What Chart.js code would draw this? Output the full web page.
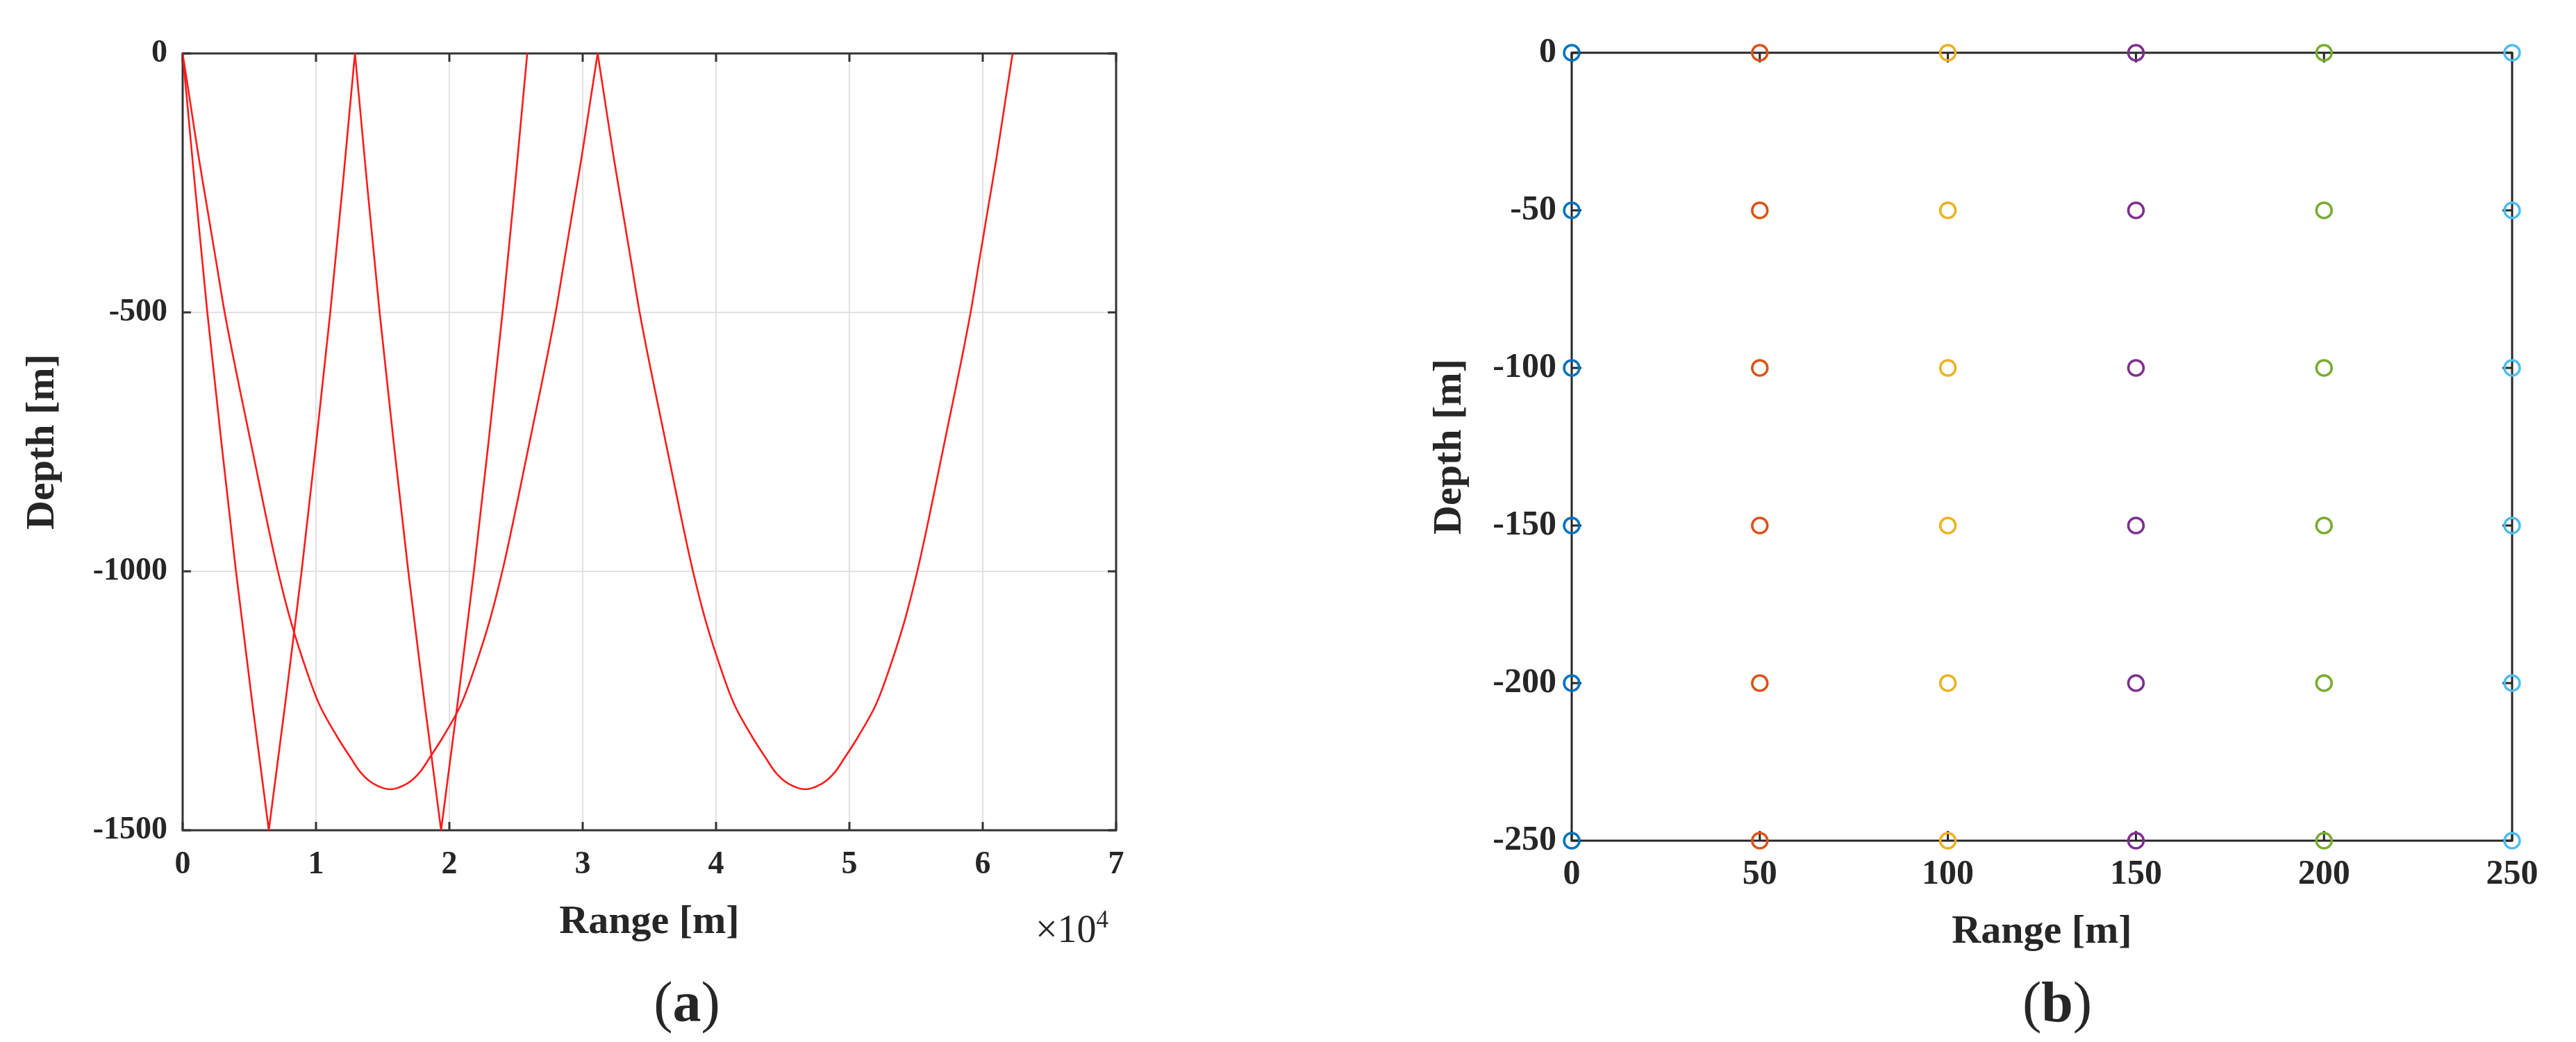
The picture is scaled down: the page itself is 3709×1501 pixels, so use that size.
<!DOCTYPE html>
<html>
<head>
<meta charset="utf-8">
<script src="https://cdn.jsdelivr.net/npm/chart.js@4"></script>
<style>
  html, body { margin: 0; padding: 0; background: #fff; overflow: hidden; }
  body { width: 3709px; height: 1501px; position: relative; font-family: "Liberation Serif", serif; color: #262626; }
  canvas { position: absolute; top: 0; }
  #rayChart { left: 0; width: 1800px; height: 1400px; }
  #gridChart { left: 1900px; width: 1809px; height: 1400px; }
  .note { position: absolute; white-space: nowrap; line-height: 1; }
</style>
</head>
<body>
<canvas id="rayChart" width="1800" height="1400"></canvas>
<canvas id="gridChart" width="1809" height="1400"></canvas>
<div class="note" style="left:1491px; top:1310px; font-size:56px;">×10<span style="font-size:35px; position:relative; top:-21px;">4</span></div>
<div class="note" style="left:889px; top:1403px; width:200px; text-align:center; font-size:82px;">(<b>a</b>)</div>
<div class="note" style="left:2862px; top:1403px; width:200px; text-align:center; font-size:82px;">(<b>b</b>)</div>
<script>
// (a) ray paths: range in metres, depth in metres
const steepRange = [
  0, 900, 1850, 2900, 4000, 5200, 6460,
  7720, 8920, 10020, 11070, 12020, 12920,
  13820, 14770, 15820, 16920, 18120, 19380,
  20640, 21840, 22940, 23990, 24940, 25840,
];
const steepDepth = [
  0, -250, -500, -750, -1000, -1250, -1500,
  -1250, -1000, -750, -500, -250, 0,
  -250, -500, -750, -1000, -1250, -1500,
  -1250, -1000, -750, -500, -250, 0,
];
const bentRange = [
  0, 600, 1200, 1850, 2500, 3150, 3900, 4700, 5500, 6300, 7150, 8150, 9400, 10300, 11600, 12600, 13400, 14300, 15560,
  16820, 17720, 18520, 19520, 20820, 21720, 22970, 23970, 24820, 25620, 26420, 27220, 27970, 28620, 29270, 29920, 30520, 31120,
  31720, 32320, 32970, 33620, 34270, 35020, 35820, 36620, 37420, 38270, 39270, 40520, 41420, 42720, 43720, 44520, 45420, 46680,
  47940, 48840, 49640, 50640, 51940, 52840, 54090, 55090, 55940, 56740, 57540, 58340, 59090, 59740, 60390, 61040, 61640, 62240,
];
const bentDepth = [
  0, -100, -200, -300, -400, -500, -600, -700, -800, -900, -1000, -1100, -1200, -1260, -1320, -1360, -1390, -1410, -1421,
  -1410, -1390, -1360, -1320, -1260, -1200, -1100, -1000, -900, -800, -700, -600, -500, -400, -300, -200, -100, 0,
  -100, -200, -300, -400, -500, -600, -700, -800, -900, -1000, -1100, -1200, -1260, -1320, -1360, -1390, -1410, -1421,
  -1410, -1390, -1360, -1320, -1260, -1200, -1100, -1000, -900, -800, -700, -600, -500, -400, -300, -200, -100, 0,
];
// index where the bent ray touches the surface between its two loops
const bentSurfaceHit = 36;

// (b) receiver grid
const sensorRange = [0, 50, 100, 150, 200, 250];
const sensorDepth = [0, -50, -100, -150, -200, -250];
const sensorColors = ["#0072BD", "#D95319", "#EDB120", "#7E2F8E", "#77AC30", "#4DBEEE"];

const textColor = "#262626";
const rayColor = "#ff1a1a";
const serif = (size) => ({ family: "'Liberation Serif', serif", size, weight: "bold" });
const toPoints = (xs, ys) => xs.map((x, i) => ({ x, y: ys[i] }));
const bentPoints = toPoints(bentRange, bentDepth);

// box round the plot with inward ticks on all four sides
const boxFrame = {
  id: "boxFrame",
  beforeDatasetsDraw(chart, args, opts) {
    const { ctx, chartArea: a, scales } = chart;
    const len = opts.tickLength;
    ctx.save();
    ctx.strokeStyle = opts.color;
    ctx.lineWidth = opts.lineWidth;
    ctx.beginPath();
    scales.x.ticks.forEach((t) => {
      const px = scales.x.getPixelForValue(t.value);
      ctx.moveTo(px, a.bottom);
      ctx.lineTo(px, a.bottom - len);
      ctx.moveTo(px, a.top);
      ctx.lineTo(px, a.top + len);
    });
    scales.y.ticks.forEach((t) => {
      const py = scales.y.getPixelForValue(t.value);
      ctx.moveTo(a.left, py);
      ctx.lineTo(a.left + len, py);
      ctx.moveTo(a.right, py);
      ctx.lineTo(a.right - len, py);
    });
    ctx.stroke();
    ctx.strokeRect(a.left, a.top, a.right - a.left, a.bottom - a.top);
    ctx.restore();
  },
};

new Chart(document.getElementById("rayChart"), {
  type: "scatter",
  data: {
    datasets: [
      { data: toPoints(steepRange, steepDepth), tension: 0 },
      { data: bentPoints.slice(0, bentSurfaceHit + 1), tension: 0.35 },
      { data: bentPoints.slice(bentSurfaceHit), tension: 0.35 },
    ],
  },
  options: {
    responsive: false,
    animation: false,
    showLine: true,
    elements: {
      line: { borderColor: rayColor, borderWidth: 2.6 },
      point: { radius: 0, hoverRadius: 0 },
    },
    layout: { padding: { top: 77, right: 193, bottom: 0, left: 0 } },
    plugins: {
      legend: { display: false },
      tooltip: { enabled: false },
      boxFrame: { color: "#333333", lineWidth: 3, tickLength: 12 },
    },
    scales: {
      x: {
        type: "linear",
        min: 0,
        max: 70000,
        afterFit: (s) => { s.height = 204; },
        ticks: { stepSize: 10000, padding: 23, color: textColor, font: serif(46), callback: (v) => String(v / 10000) },
        grid: { color: "#e1e1e1", lineWidth: 2, drawTicks: false },
        border: { display: false },
        title: { display: true, text: "Range [m]", color: textColor, font: serif(58), padding: { top: 0, bottom: 36 } },
      },
      y: {
        type: "linear",
        min: -1500,
        max: 0,
        afterFit: (s) => { s.width = 263; },
        ticks: { stepSize: 500, padding: 22, color: textColor, font: serif(46), callback: (v) => String(v) },
        grid: { color: "#e1e1e1", lineWidth: 2, drawTicks: false },
        border: { display: false },
        title: { display: true, text: "Depth [m]", color: textColor, font: serif(58), padding: { top: 27, bottom: 0 } },
      },
    },
  },
  plugins: [boxFrame],
});

new Chart(document.getElementById("gridChart"), {
  type: "scatter",
  data: {
    datasets: sensorRange.map((r, i) => ({
      data: sensorDepth.map((d) => ({ x: r, y: d })),
      borderColor: sensorColors[i],
      backgroundColor: "rgba(0,0,0,0)",
      clip: false,
    })),
  },
  options: {
    responsive: false,
    animation: false,
    elements: {
      point: { pointStyle: "circle", radius: 11, hoverRadius: 11, borderWidth: 3.5 },
    },
    layout: { padding: { top: 76, right: 92, bottom: 0, left: 0 } },
    plugins: {
      legend: { display: false },
      tooltip: { enabled: false },
      boxFrame: { color: "#262626", lineWidth: 3, tickLength: 14 },
    },
    scales: {
      x: {
        type: "linear",
        min: 0,
        max: 250,
        afterFit: (s) => { s.height = 189; },
        ticks: { stepSize: 50, padding: 19, color: textColor, font: serif(50), callback: (v) => String(v) },
        grid: { display: false, drawTicks: false },
        border: { display: false },
        title: { display: true, text: "Range [m]", color: textColor, font: serif(58), padding: { top: 0, bottom: 22 } },
      },
      y: {
        type: "linear",
        min: -250,
        max: 0,
        afterFit: (s) => { s.width = 363; },
        ticks: { stepSize: 50, padding: 22, color: textColor, font: serif(50), callback: (v) => String(v) },
        grid: { display: false, drawTicks: false },
        border: { display: false },
        title: { display: true, text: "Depth [m]", color: textColor, font: serif(58), padding: { top: 153, bottom: 0 } },
      },
    },
  },
  plugins: [boxFrame],
});
</script>
</body>
</html>
